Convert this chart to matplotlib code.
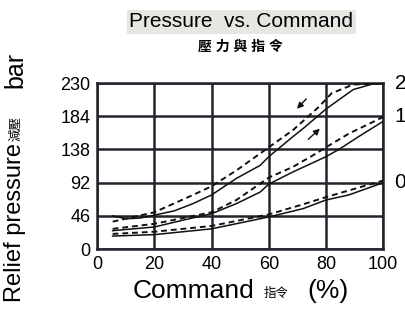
import matplotlib.pyplot as plt
import matplotlib.patches as mpatches

plt.rcParams['font.family'] = ['Liberation Sans', 'Noto Sans CJK TC', 'DejaVu Sans']

# curve "2" (rising = solid, falling = dashed)
x2_up = [5.4, 10, 15, 20, 27, 33.5, 40, 48.7, 57, 60, 68.5, 72, 80, 89.5, 96.5, 100]
y2_up = [46, 42, 43, 47, 53, 63, 75, 98, 116, 128, 156, 167, 194, 221, 229, 229]
x2_dn = [5.4, 20, 33.5, 40, 48.7, 60, 68.5, 77.5, 82, 89.5, 100]
y2_dn = [38, 51, 75, 87, 109, 141, 165, 197, 216, 228, 230]

# curve "1"
x1_up = [5.4, 20, 31, 40, 48.7, 57, 60, 68.5, 80, 84.5, 91.5, 100]
y1_up = [25.5, 30.6, 41, 49, 63, 79, 90, 107, 128, 138, 156, 177]
x1_dn = [5.4, 20, 40, 48.7, 60, 68.5, 75.5, 80, 88, 100]
y1_dn = [28, 35, 51, 68, 99, 114, 130, 141, 160, 183]

# curve "0"
x0_up = [5.4, 20, 40, 60, 72, 80, 88, 100]
y0_up = [18, 20, 28, 44.5, 56, 68, 75, 92]
x0_dn = [5.4, 20, 40, 60, 72, 80, 100]
y0_dn = [21, 24, 32, 48, 62, 72, 95]

curve_labels = ['2', '1', '0']
curve_label_y = [230, 184, 92]

xticks = [0, 20, 40, 60, 80, 100]
yticks = [0, 46, 92, 138, 184, 230]

fig = plt.figure(figsize=(4.05, 3.09), dpi=100)
ax = fig.add_axes([0.240, 0.194, 0.706, 0.537])

grid_c = '#23232b'
for xv in xticks:
    ax.axvline(xv, color=grid_c, lw=1.8, zorder=1)
for yv in yticks:
    ax.axhline(yv, color=grid_c, lw=1.8, zorder=1)

for xs, ys in [(x2_up, y2_up), (x1_up, y1_up), (x0_up, y0_up)]:
    ax.plot(xs, ys, color='#111111', lw=1.1, zorder=3)
for xs, ys in [(x2_dn, y2_dn), (x1_dn, y1_dn), (x0_dn, y0_dn)]:
    ax.plot(xs, ys, color='#111111', lw=1.4, ls=(0, (3, 2)), zorder=3)

# direction arrows
ax.annotate('', xy=(69.2, 191.6), xytext=(73.8, 211),
            arrowprops=dict(arrowstyle='-|>', color='#111111', lw=1.0, mutation_scale=9))
ax.annotate('', xy=(78.6, 169.4), xytext=(73.1, 149.6),
            arrowprops=dict(arrowstyle='-|>', color='#111111', lw=1.0, mutation_scale=9))

ax.set_xlim(0, 100)
ax.set_ylim(0, 230)
ax.set_xticks(xticks)
ax.set_yticks(yticks)
ax.tick_params(length=0, labelsize=13, pad=5)
for s in ax.spines.values():
    s.set_color(grid_c)
    s.set_linewidth(1.8)

for lab, yv in zip(curve_labels, curve_label_y):
    ax.text(104, yv, lab, fontsize=15, ha='left', va='center', clip_on=False)

# title block
fig.text(0.596, 0.929, 'Pressure  vs. Command', fontsize=15, ha='center', va='center',
         bbox=dict(boxstyle='square,pad=0.12', fc='#e6e6e2', ec='none'))
fig.text(0.594, 0.848, '壓 力 與 指 令', fontsize=10, fontweight='bold', ha='center', va='center')

# axis labels
fig.text(0.328, 0.018, 'Command', fontsize=19, ha='left', va='bottom')
fig.text(0.650, 0.03, '指令', fontsize=9, ha='left', va='bottom')
fig.text(0.758, 0.018, '(%)', fontsize=19, ha='left', va='bottom')

fig.text(0.038, 0.537, 'Relief pressure', fontsize=17, rotation=90, ha='center', va='top')
fig.text(0.040, 0.583, '減壓', fontsize=9, rotation=90, ha='center', va='center')
fig.text(0.038, 0.775, 'bar', fontsize=18, rotation=90, ha='center', va='center')

fig.savefig('out.png', dpi=100)
